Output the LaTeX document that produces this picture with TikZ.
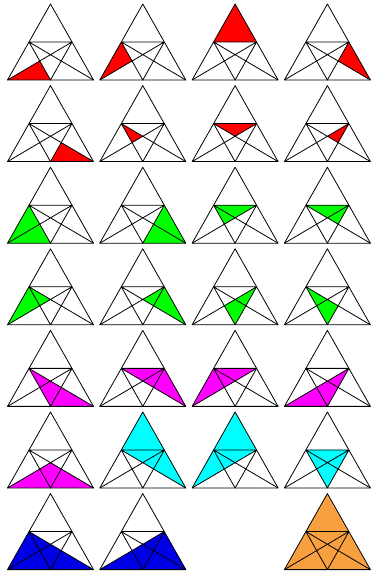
\documentclass[tikz,border=0pt]{standalone}
\usetikzlibrary{calc}

\definecolor{tri red}{RGB}{255,0,0}
\definecolor{tri green}{RGB}{0,255,0}
\definecolor{tri magenta}{RGB}{255,0,255}
\definecolor{tri cyan}{RGB}{0,255,255}
\definecolor{tri blue}{RGB}{0,0,230}
\definecolor{tri orange}{RGB}{248,160,64}

\begin{document}
\begin{tikzpicture}[
  x=1pt, y=1pt,
  edge/.style  = {line width=0.8pt, line join=round},
  patch/.style = {draw=none}
]

\useasboundingbox (0,0) rectangle (372,571);

% ================= one cell per triangle of the figure =================
\foreach \c/\r/\col/\p/\q/\s in {
    0/0/tri red/A/F/G, 1/0/tri red/A/D/G, 2/0/tri red/C/D/E, 3/0/tri red/B/E/H,
    0/1/tri red/B/F/H, 1/1/tri red/D/G/I, 2/1/tri red/D/E/I, 3/1/tri red/E/H/I,
    0/2/tri green/A/D/F, 1/2/tri green/B/E/F, 2/2/tri green/D/E/G, 3/2/tri green/D/E/H,
    0/3/tri green/A/D/I, 1/3/tri green/B/E/I, 2/3/tri green/E/F/G, 3/3/tri green/D/F/H,
    0/4/tri magenta/B/F/D, 1/4/tri magenta/B/D/E, 2/4/tri magenta/A/D/E, 3/4/tri magenta/A/F/E,
    0/5/tri magenta/A/B/I, 1/5/tri cyan/B/C/D, 2/5/tri cyan/A/C/E, 3/5/tri cyan/D/E/F,
    0/6/tri blue/A/B/D, 1/6/tri blue/A/B/E, 3/6/tri orange/A/B/C}{
  \begin{scope}[shift={({7.5+92.3*\c},{491-81.6*\r})}]
    \coordinate (A) at (0,0);
    \coordinate (B) at (86,0);
    \coordinate (C) at (43,76);
    \coordinate (D) at ($(A)!0.5!(C)$);
    \coordinate (E) at ($(B)!0.5!(C)$);
    \coordinate (F) at ($(A)!0.5!(B)$);
    \coordinate (G) at ($(A)!0.5!(E)$);
    \coordinate (H) at ($(B)!0.5!(D)$);
    \coordinate (I) at ($(A)!2/3!(E)$);

    \fill[patch, \col] (\p) -- (\q) -- (\s) -- cycle;
    \draw[edge] (A) -- (B) -- (C) -- cycle;
    \draw[edge] (D) -- (E) (A) -- (E) (B) -- (D) (D) -- (F) -- (E);
  \end{scope}
}

\end{tikzpicture}
\end{document}
